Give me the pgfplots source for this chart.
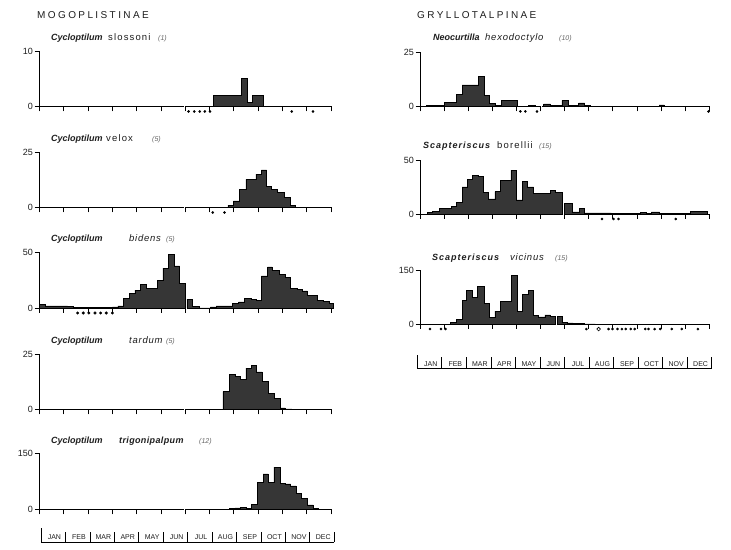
\documentclass[border=0pt]{standalone}
\usepackage{pgfplots}
\pgfplotsset{compat=1.18}
\usepackage{fontspec}
\setmainfont{Liberation Sans}
\definecolor{barc}{HTML}{363636}
\definecolor{txt}{HTML}{1E1E1E}
\newcommand{\hdr}[1]{{\fontsize{10}{10}\selectfont\addfontfeature{LetterSpace=24}#1}}
\newcommand{\gen}[1]{{\fontsize{9}{9}\selectfont\bfseries\itshape#1}}
\newcommand{\gens}[1]{{\fontsize{9}{9}\selectfont\bfseries\itshape\addfontfeature{LetterSpace=11}#1}}
\newcommand{\spu}[1]{{\fontsize{9.5}{9.5}\selectfont\addfontfeature{LetterSpace=12}#1}}
\newcommand{\spi}[1]{{\fontsize{9.5}{9.5}\selectfont\itshape\addfontfeature{LetterSpace=8}#1}}
\newcommand{\spb}[1]{{\fontsize{9}{9}\selectfont\bfseries\itshape\addfontfeature{LetterSpace=4}#1}}
\newcommand{\cnt}[1]{{\fontsize{7}{7}\selectfont\itshape\color{black!60}#1}}
\pgfplotsset{
  panel/.style={
    scale only axis, height=55.5pt,
    xmin=0, xmax=52, ymin=0,
    clip=false,
    axis x line*=bottom, axis y line*=left,
    axis line style={-, black, line width=0.7pt},
    x axis line style={draw=none},
    xtick={0,4.3333,8.6667,13,17.3333,21.6667,26,30.3333,34.6667,39,43.3333,47.6667,52},
    xticklabels={},
    tick align=outside,
    major tick length=5pt,
    tick style={black, line width=0.7pt},
    /pgf/number format/assume math mode=true,
    yticklabel style={font=\fontsize{9}{9}\selectfont, text=txt, inner sep=1.5pt},
  },
  hist/.style={const plot, fill=barc, draw=black, line width=0.5pt},
  dots/.style={only marks, mark=*, mark size=1.1pt, black},
}
\newcommand{\brk}[2]{\draw[line width=0.7pt] (axis cs:0,0) -- (axis cs:#1,0) (axis cs:#2,0) -- (axis cs:52,0);}
\begin{document}
\begin{tikzpicture}
\useasboundingbox (0,0) rectangle (731pt,549pt);
\fill[white] (0,0) rectangle (731pt,549pt);

\node[anchor=base west, inner sep=0, text=txt] at (37pt,530pt) {\hdr{MOGOPLISTINAE}};
\node[anchor=base west, inner sep=0, text=txt] at (417pt,530pt) {\hdr{GRYLLOTALPINAE}};

% ---------- titles left
\node[anchor=base west, inner sep=0, text=txt] at (51pt,508pt) {\gen{Cycloptilum}};
\node[anchor=base west, inner sep=0, text=txt] at (108pt,508pt) {\spu{slossoni}};
\node[anchor=base west, inner sep=0] at (158pt,508pt) {\cnt{(1)}};

\node[anchor=base west, inner sep=0, text=txt] at (51pt,407pt) {\gen{Cycloptilum}};
\node[anchor=base west, inner sep=0, text=txt] at (106pt,407pt) {\spu{velox}};
\node[anchor=base west, inner sep=0] at (152pt,407pt) {\cnt{(5)}};

\node[anchor=base west, inner sep=0, text=txt] at (51pt,307pt) {\gen{Cycloptilum}};
\node[anchor=base west, inner sep=0, text=txt] at (129pt,307pt) {\spi{bidens}};
\node[anchor=base west, inner sep=0] at (166pt,307pt) {\cnt{(5)}};

\node[anchor=base west, inner sep=0, text=txt] at (51pt,205pt) {\gen{Cycloptilum}};
\node[anchor=base west, inner sep=0, text=txt] at (129pt,205pt) {\spi{tardum}};
\node[anchor=base west, inner sep=0] at (166pt,205pt) {\cnt{(5)}};

\node[anchor=base west, inner sep=0, text=txt] at (51pt,105pt) {\gen{Cycloptilum}};
\node[anchor=base west, inner sep=0, text=txt] at (119pt,105pt) {\spb{trigonipalpum}};
\node[anchor=base west, inner sep=0] at (199pt,105pt) {\cnt{(12)}};

% ---------- titles right
\node[anchor=base west, inner sep=0, text=txt] at (433pt,508pt) {\gen{Neocurtilla}};
\node[anchor=base west, inner sep=0, text=txt] at (485pt,508pt) {\spi{hexodoctylo}};
\node[anchor=base west, inner sep=0] at (559pt,508pt) {\cnt{(10)}};

\node[anchor=base west, inner sep=0, text=txt] at (423pt,400pt) {\gens{Scapteriscus}};
\node[anchor=base west, inner sep=0, text=txt] at (497pt,400pt) {\spu{borellii}};
\node[anchor=base west, inner sep=0] at (539pt,400pt) {\cnt{(15)}};

\node[anchor=base west, inner sep=0, text=txt] at (432pt,288pt) {\gens{Scapteriscus}};
\node[anchor=base west, inner sep=0, text=txt] at (510pt,288pt) {\spi{vicinus}};
\node[anchor=base west, inner sep=0] at (555pt,288pt) {\cnt{(15)}};

% ---------- Cycloptilum slossoni
\begin{axis}[panel, at={(39.5pt,442.5pt)}, anchor=south west, width=291.5pt, ymax=10, ytick={0,10}]
\addplot[hist] coordinates {(31,2) (36,5) (37,0.8) (38,2) (40,0)} \closedcycle;
\addplot[dots] coordinates {(26.6,-0.9) (27.6,-0.9) (28.6,-0.9) (29.5,-0.9) (30.4,-0.9) (45,-0.9) (48.8,-0.9)};
\brk{25.85}{26.2}
\end{axis}

% ---------- Cycloptilum velox
\begin{axis}[panel, at={(39.5pt,341.5pt)}, anchor=south west, width=291.5pt, ymax=25, ytick={0,25}]
\addplot[hist] coordinates {(33.6,1) (34.6,3) (35.7,8) (36.8,12.7) (38.6,15) (39.6,17) (40.5,9.5) (41.4,8) (42.5,6.7) (43.7,4.5) (44.7,1) (45.6,0)} \closedcycle;
\addplot[dots] coordinates {(30.9,-2.25) (33,-2.25)};
\brk{25.85}{26.2}
\end{axis}

% ---------- Cycloptilum bidens
\begin{axis}[panel, at={(39.5pt,241pt)}, anchor=south west, width=291.5pt, ymax=50, ytick={0,50}]
\addplot[hist] coordinates {(0,3) (1,2) (5,1.6) (6,0.4) (13,1) (14,2) (15,9) (16,13) (17,16) (18,21) (19,18) (21,25) (22,36) (23,48) (24,38) (25,22) (26,0)} \closedcycle;
\addplot[hist] coordinates {(26.3,8) (27.3,1.5) (28.5,0.2) (30.5,1) (31.5,2) (34.4,4) (35.5,5.5) (36.6,9) (37.7,8) (38.6,7) (39.6,29) (40.7,37) (41.5,34) (42.7,30) (43.8,27.5) (44.8,18) (46,17) (46.9,15.5) (47.8,11.5) (49.6,7) (50.7,6) (51.6,4.5) (52.4,0)} \closedcycle;
\addplot[dots, mark size=1.3pt] coordinates {(6.8,-4.5) (7.8,-4.5) (8.8,-4.5) (9.9,-4.5) (10.9,-4.5) (11.9,-4.5) (13,-4.5)};
\brk{26}{26.3}
\end{axis}

% ---------- Cycloptilum tardum
\begin{axis}[panel, at={(39.5pt,139.5pt)}, anchor=south west, width=291.5pt, ymax=25, ytick={0,25}]
\addplot[hist] coordinates {(32.7,8) (33.9,15.8) (34.9,14.9) (35.8,13.7) (36.8,18.6) (37.8,20) (38.7,17) (39.7,12.6) (40.8,7.4) (41.8,5) (42.9,0.7) (43.8,0.3) (45,0)} \closedcycle;
\brk{25.85}{26.2}
\end{axis}

% ---------- Cycloptilum trigonipalpum
\begin{axis}[panel, at={(39.5pt,39.7pt)}, anchor=south west, width=291.5pt, ymax=150, ytick={0,150}]
\addplot[hist] coordinates {(33.9,2) (34.9,4) (35.8,6) (36.8,3) (37.8,14) (38.8,72) (39.9,96) (40.8,72) (41.8,114) (42.9,70) (43.8,69) (44.8,63) (45.8,43) (46.7,30) (47.7,12) (48.8,2) (49.7,0)} \closedcycle;
\brk{25.85}{26.2}
\end{axis}

% ---------- Neocurtilla hexodoctylo
\begin{axis}[panel, at={(420.5pt,442.5pt)}, anchor=south west, width=288.5pt, height=54pt, ymax=25, ytick={0,25}]
\addplot[hist] coordinates {(1.1,0.5) (4.3,2) (6.4,5.5) (7.5,10) (10.4,14) (11.4,5) (12.4,1.5) (13.5,0.5) (14.6,3) (17.4,0)} \closedcycle;
\addplot[hist] coordinates {(19.5,0.5) (20.6,0)} \closedcycle;
\addplot[hist] coordinates {(22.2,1.2) (23.4,0.5) (25.5,2.8) (26.6,0.5) (28.5,1.7) (29.6,0.5) (30.6,0)} \closedcycle;
\addplot[hist] coordinates {(43,0.8) (43.9,0)} \closedcycle;
\addplot[dots] coordinates {(18,-2.3) (18.9,-2.3) (21,-2.3) (51.9,-2.3)};
\brk{21.5}{21.9}
\end{axis}

% ---------- Scapteriscus borellii
\begin{axis}[panel, at={(420.5pt,335pt)}, anchor=south west, width=288.5pt, height=54pt, ymax=50, ytick={0,50}]
\addplot[hist] coordinates {(1.3,1.2) (2.2,2.2) (3.4,5.2) (5.5,6.8) (6.4,10.8) (7.5,25) (8.5,32) (9.4,35.5) (10.4,34.6) (11.3,19.8) (12.3,13.9) (13.4,20.7) (14.4,30.9) (16.3,40.7) (17.3,13) (18.3,30) (19.3,25) (20.4,19) (23.4,22) (24.3,20) (25.5,0)} \closedcycle;
\addplot[hist] coordinates {(25.9,10) (27.4,2) (28.6,5.2) (29.5,1) (34.4,0.3) (39.6,1.5) (40.7,0.5) (41.6,2) (43.1,0.8) (48.7,2.2) (51.7,0)} \closedcycle;
\addplot[dots] coordinates {(32.7,-4.6) (34.8,-4.6) (35.7,-4.6) (46,-4.6)};
\brk{25.5}{25.85}
\end{axis}

% ---------- Scapteriscus vicinus
\begin{axis}[panel, at={(420.5pt,225pt)}, anchor=south west, width=288.5pt, height=54pt, ymax=150, ytick={0,150}]
\addplot[hist] coordinates {(5.4,4.6) (6.4,13) (7.5,65) (8.3,92.6) (9.4,73) (10.3,104) (11.5,57) (12.4,17.6) (13.4,36) (14.4,62) (16.4,136) (17.4,36) (18.4,83) (19.4,92.6) (20.4,23) (21.3,20) (22.4,25) (23.4,22) (24.3,0)} \closedcycle;
\addplot[hist] coordinates {(24.7,22) (25.5,4.6) (26.5,3) (27.5,1.5) (29.5,0.5) (31.5,0)} \closedcycle;
\addplot[dots] coordinates {(1.7,-14) (3.7,-14) (4.5,-14) (29.9,-14) (33.9,-14) (34.6,-14) (35.5,-14) (36.3,-14) (37,-14) (37.9,-14) (38.6,-14) (40.5,-14) (41.1,-14) (42.2,-14) (43.2,-14) (45.3,-14) (47.1,-14) (50,-14)};
\addplot[only marks, mark=o, mark size=1.8pt, black, mark options={line width=0.6pt}] coordinates {(32.1,-14)};
\brk{24.3}{24.7}
\end{axis}

% ---------- month label strips
\begin{scope}[line width=0.7pt, black]
\draw (41pt,7pt) -- (334.3pt,7pt);
\draw (41pt,7pt) -- (41pt,21pt);
\foreach \k in {1,...,12} {\draw ({41pt+\k*24.44pt},7pt) -- ({41pt+\k*24.44pt},17.5pt);}
\foreach \m [count=\i from 0] in {JAN,FEB,MAR,APR,MAY,JUN,JUL,AUG,SEP,OCT,NOV,DEC}
  {\node[anchor=base, inner sep=0, text=txt, font=\fontsize{7}{7}\selectfont] at ({41pt+(\i+0.55)*24.44pt},9.6pt) {\m};}
\draw (417.3pt,181pt) -- (711.7pt,181pt);
\draw (417.3pt,181pt) -- (417.3pt,194pt);
\foreach \k in {1,...,12} {\draw ({417.3pt+\k*24.53pt},181pt) -- ({417.3pt+\k*24.53pt},192pt);}
\foreach \m [count=\i from 0] in {JAN,FEB,MAR,APR,MAY,JUN,JUL,AUG,SEP,OCT,NOV,DEC}
  {\node[anchor=base, inner sep=0, text=txt, font=\fontsize{7}{7}\selectfont] at ({417.3pt+(\i+0.55)*24.53pt},182.5pt) {\m};}
\end{scope}
\end{tikzpicture}
\end{document}
